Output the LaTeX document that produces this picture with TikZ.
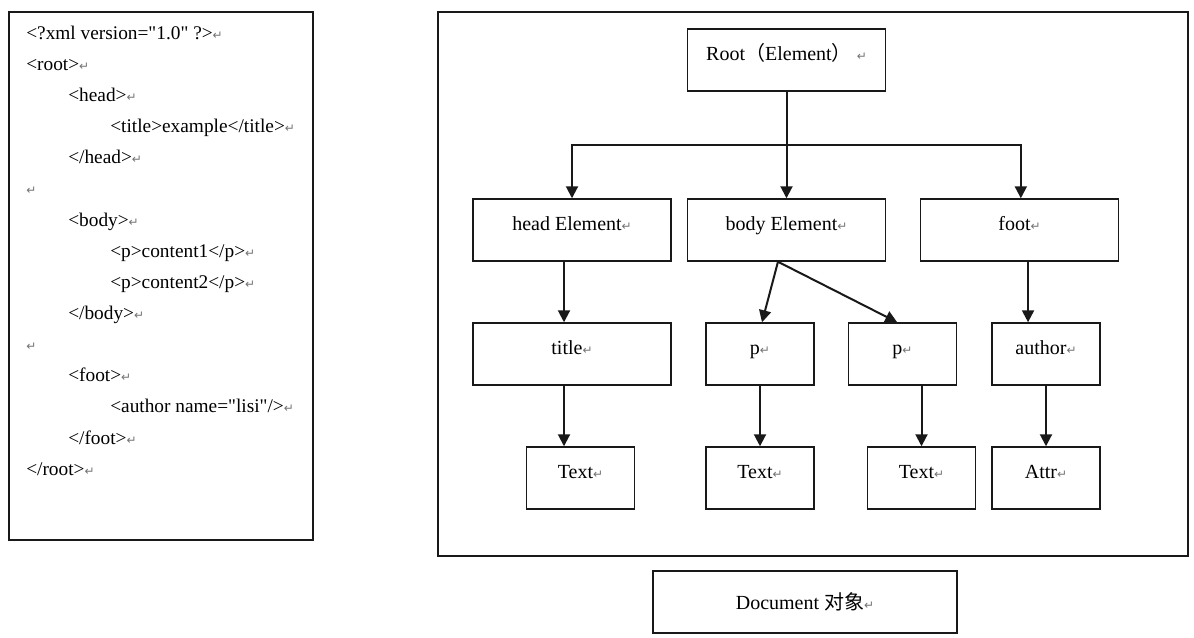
\documentclass[tikz,border=0pt]{standalone}
\usepackage{fontspec}
\setmainfont{Liberation Serif}[Ligatures=TeXOff]
\newfontfamily\cjk{Noto Sans CJK SC}
\newfontfamily\symfont{DejaVu Sans}
\usetikzlibrary{arrows.meta}
\newcommand\retmark{{\symfont\fontsize{9}{9}\selectfont\color{black!55}↵}}

\tikzset{
  frame/.style={draw=black!90, line width=1.1pt},
  codeline/.style={anchor=base west, inner sep=0pt, font=\fontsize{14.5}{14.5}\selectfont},
  box/.style={draw=black!90, line width=1.1pt, minimum width=#1, minimum height=46.5pt,
    text height=0pt, text depth=0pt, inner sep=0pt, font=\fontsize{15}{15}\selectfont},
  docbox/.style={draw=black!90, line width=1.1pt, minimum width=228pt, minimum height=46.5pt,
    inner sep=0pt, font=\fontsize{15}{15}\selectfont},
  arr/.style={draw=black!90, line width=1.5pt, -{Triangle[length=9pt,width=9pt]}},
}

\begin{document}
\begin{tikzpicture}[x=0.75pt, y=-0.75pt]
		\useasboundingbox (0,0) rectangle (1194,637);
		%%%%% XML TEXT %%%%%
		
		\draw[frame] (9,12) rectangle (313,540);
		
		\node[codeline] (l1) at (26,39) {<?xml version="1.0" ?>\retmark};
		\node[codeline] (l2) at (26,70) {<root>\retmark};
		\node[codeline] (l3) at (68,101) {<head>\retmark};
		\node[codeline] (l4) at (110,132) {<title>example</title>\retmark};
		\node[codeline] (l5) at (68,163) {</head>\retmark};
		\node[codeline] (l6) at (26,194) {\retmark};
		\node[codeline] (l7) at (68,226) {<body>\retmark};
		\node[codeline] (l8) at (110,257) {<p>content1</p>\retmark};
		\node[codeline] (l9) at (110,288) {<p>content2</p>\retmark};
		\node[codeline] (l10) at (68,319) {</body>\retmark};
		\node[codeline] (l11) at (26,350) {\retmark};
		\node[codeline] (l12) at (68,381) {<foot>\retmark};
		\node[codeline] (l13) at (110,412) {<author name="lisi"/>\retmark};
		\node[codeline] (l14) at (68,444) {</foot>\retmark};
		\node[codeline] (l15) at (26,475) {</root>\retmark};
		
		%%%%% TREE %%%%%
		
		\draw[frame] (438,12) rectangle (1188,556);
		
		\node[box=148.5pt] (root) at (786.5,60) {Root{\cjk （}Element{\cjk ）} \retmark};
		
		\node[box=148.5pt] (head) at (572,230) {head Element\retmark};
		\node[box=148.5pt] (body) at (786.5,230) {body Element\retmark};
		\node[box=148.5pt] (foot) at (1019.5,230) {foot\retmark};
		
		\node[box=148.5pt] (title) at (572,354) {title\retmark};
		\node[box=81pt] (p1) at (760,354) {p\retmark};
		\node[box=81pt] (p2) at (902.5,354) {p\retmark};
		\node[box=81pt] (author) at (1046,354) {author\retmark};
		
		\node[box=81pt] (text1) at (580.5,478) {Text\retmark};
		\node[box=81pt] (text2) at (760,478) {Text\retmark};
		\node[box=81pt] (text3) at (921.5,478) {Text\retmark};
		\node[box=81pt] (attr) at (1046,478) {Attr\retmark};
		
		\coordinate (bus) at (786.5,145);
		\draw[arr] (root.south) -- (body.north);
		\draw[arr] (bus) -| (head.north);
		\draw[arr] (bus) -| ([xshift=1pt]foot.north);
		
		\draw[arr] ([xshift=-6pt]head.south) -- ([xshift=-6pt]title.north);
		\draw[arr] ([xshift=-6pt]title.south) -- ([xshift=-6pt]title.south |- text1.north);
		
		\coordinate (fork) at ([xshift=-6.4pt]body.south);
		\draw[arr] (fork) -- ([xshift=1.5pt]p1.north);
		\draw[arr] (fork) -- ([xshift=-4pt]p2.north);
		\draw[arr] (p1.south) -- (text2.north);
		\draw[arr] (p2.south -| text3.north) -- (text3.north);
		
		\draw[arr] ([xshift=6.4pt]foot.south) -- ([xshift=6.4pt]foot.south |- author.north);
		\draw[arr] (author.south) -- (attr.north);
		
		%%%%% DOCUMENT %%%%%
		
		\node[docbox] (doc) at (805,602) {Document {\cjk 对象}\retmark};
		
		%%%%% END %%%%%
\end{tikzpicture}
\end{document}
